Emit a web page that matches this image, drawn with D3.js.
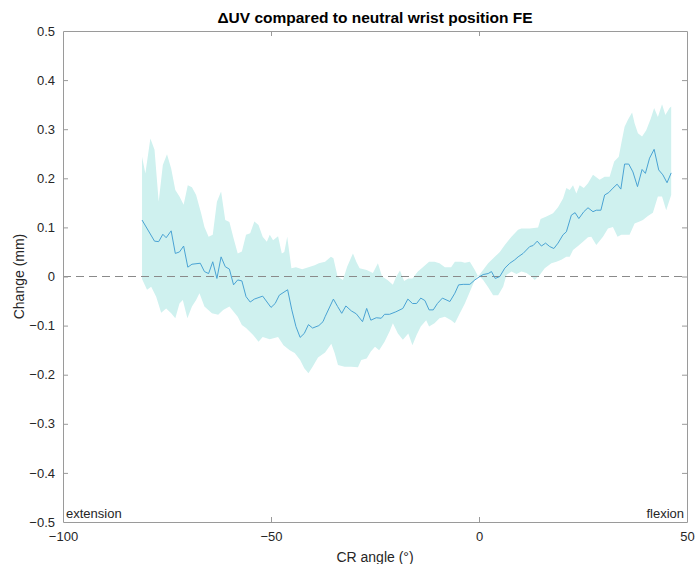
<!DOCTYPE html>
<html>
<head>
<meta charset="utf-8">
<script src="https://cdn.jsdelivr.net/npm/d3@7"></script>
<style>
  html, body { margin: 0; padding: 0; background: #fff; }
  svg { display: block; font-family: "Liberation Sans", Arial, Helvetica, sans-serif; }
</style>
</head>
<body>
<svg id="chart" width="695" height="564"></svg>
<script>
// Mean change in UV as a function of CR angle: [angle (deg), change (mm)]
const meanSeries = [
  [-81,0.115],[-78,0.072],[-77,0.071],[-76,0.086],[-75.2,0.079],[-74,0.093],[-73,0.047],[-72,0.050],
  [-71,0.062],[-70,0.019],[-69,0.025],[-67,0.027],[-66,0.010],[-65,0.006],[-64,0.030],[-63,-0.004],
  [-62,0.040],[-61,0.020],[-60,0.015],[-59,-0.017],[-58,-0.007],[-57,-0.009],[-56,-0.041],[-55,-0.052],
  [-54,-0.046],[-52,-0.040],[-50,-0.063],[-49,-0.055],[-48,-0.038],[-46,-0.027],[-45,-0.068],[-44,-0.102],
  [-43,-0.124],[-42,-0.116],[-41,-0.098],[-40,-0.105],[-38.5,-0.100],[-37.5,-0.092],[-37,-0.082],[-35,-0.046],
  [-34,-0.061],[-33,-0.075],[-32,-0.060],[-30.7,-0.070],[-29.5,-0.076],[-28,-0.092],[-27,-0.065],[-26,-0.089],
  [-24.7,-0.084],[-23.5,-0.085],[-22.7,-0.077],[-21.5,-0.077],[-20,-0.072],[-18.3,-0.065],[-17.1,-0.046],[-16,-0.055],
  [-15,-0.055],[-14,-0.044],[-13,-0.049],[-12,-0.068],[-11,-0.068],[-10,-0.055],[-8.8,-0.044],[-7,-0.051],
  [-5.8,-0.034],[-4.9,-0.017],[-3.8,-0.016],[-2.2,-0.016],[-1,-0.007],[0.2,0.0],[1,0.004],[2.2,0.006],
  [3,0.010],[3.9,-0.004],[5,0.0],[6.2,0.017],[7.4,0.027],[8.6,0.034],[9.4,0.040],[10.6,0.047],
  [11.4,0.054],[12.2,0.061],[13,0.063],[14,0.072],[15,0.062],[16,0.068],[17,0.061],[18,0.057],
  [19,0.068],[20.2,0.085],[21,0.091],[22.2,0.125],[23.1,0.130],[24,0.118],[25.2,0.132],[26.2,0.140],
  [27.4,0.132],[28.2,0.135],[29.3,0.135],[30.2,0.166],[31.2,0.171],[32.2,0.180],[33.2,0.188],[34.1,0.178],
  [35,0.229],[36,0.229],[37,0.213],[38.1,0.183],[39.2,0.218],[40,0.210],[41,0.241],[42.1,0.259],
  [43.2,0.217],[44.2,0.207],[45.2,0.191],[46.2,0.211]
];

// Upper edge of the spread band
const upperBound = [
  [-81,0.244],[-80.2,0.210],[-79,0.281],[-78,0.258],[-77,0.152],[-76,0.227],[-75,0.249],[-74,0.220],
  [-73,0.176],[-72,0.163],[-71,0.146],[-70,0.186],[-69,0.182],[-68,0.166],[-66.8,0.129],[-66,0.101],
  [-65,0.081],[-64,0.085],[-63,0.152],[-62,0.173],[-61,0.115],[-60,0.111],[-59,0.078],[-58,0.047],
  [-57,0.051],[-56,0.085],[-55,0.088],[-54,0.112],[-53,0.105],[-52,0.081],[-51,0.071],[-50.3,0.085],
  [-49.5,0.074],[-48.3,0.082],[-47.4,0.047],[-46.8,0.050],[-46.1,0.081],[-45.1,0.017],[-44,0.019],[-42.5,0.015],
  [-41,0.019],[-39.5,0.023],[-38.5,0.027],[-37,0.030],[-35.6,0.040],[-35,0.037],[-34,0.0],[-32.7,-0.007],
  [-31.7,0.020],[-30.3,0.047],[-29.5,0.030],[-28.7,0.017],[-27,0.013],[-25.5,0.007],[-24.3,0.027],[-23.3,0.0],
  [-22,-0.007],[-20.7,-0.017],[-20,-0.002],[-19,0.012],[-18,-0.009],[-17,-0.004],[-16,-0.004],[-14.7,0.010],
  [-13.5,0.019],[-12,0.030],[-10.7,0.030],[-9.5,0.027],[-8.2,0.019],[-6.7,0.019],[-5.8,0.030],[-4.3,0.030],
  [-3.4,0.028],[-2.2,0.030],[-1,0.013],[-0.2,0.0],[0.7,0.010],[2.2,0.027],[3.8,0.040],[5,0.050],
  [6.2,0.064],[7.8,0.081],[9.4,0.095],[10.2,0.098],[12.2,0.098],[14.2,0.100],[14.8,0.117],[16.2,0.122],
  [17.8,0.129],[19,0.141],[20.2,0.159],[21,0.180],[21.8,0.176],[22.6,0.186],[23.4,0.169],[24.2,0.186],
  [25.2,0.180],[26.2,0.190],[27.4,0.207],[29,0.197],[30.2,0.203],[31.4,0.203],[32.5,0.234],[33.6,0.244],
  [34.2,0.271],[35,0.305],[35.8,0.319],[36.8,0.334],[37.4,0.312],[38.2,0.292],[39.2,0.285],[40.2,0.298],
  [41.3,0.322],[42.1,0.343],[43,0.325],[44,0.351],[44.8,0.329],[45.8,0.343],[46.2,0.346]
];

// Lower edge of the spread band
const lowerBound = [
  [-81,-0.005],[-79.8,-0.027],[-78.8,-0.021],[-77.6,-0.041],[-76.4,-0.074],[-75.2,-0.065],[-74,-0.075],[-73,-0.085],
  [-72,-0.055],[-71.2,-0.048],[-70.1,-0.085],[-69,-0.061],[-68,-0.048],[-67.2,-0.034],[-66,-0.061],[-64.2,-0.075],
  [-62.7,-0.078],[-61.5,-0.068],[-60,-0.061],[-58,-0.082],[-57,-0.099],[-56,-0.105],[-54.3,-0.119],[-53,-0.133],
  [-52,-0.123],[-50.3,-0.128],[-48.3,-0.123],[-47,-0.140],[-45.5,-0.150],[-44.3,-0.156],[-43,-0.170],[-42,-0.187],
  [-41,-0.197],[-40,-0.184],[-38.7,-0.165],[-37,-0.155],[-35.5,-0.137],[-34.7,-0.156],[-33.9,-0.180],[-32.3,-0.184],
  [-30.7,-0.184],[-29.1,-0.185],[-28.3,-0.170],[-27,-0.167],[-26,-0.153],[-25,-0.143],[-24,-0.150],[-22.7,-0.133],
  [-21.5,-0.112],[-20.7,-0.095],[-19.5,-0.116],[-18.3,-0.129],[-17,-0.116],[-16,-0.140],[-15,-0.119],[-14,-0.102],
  [-12.7,-0.089],[-12,-0.102],[-10.7,-0.095],[-9.5,-0.085],[-8.2,-0.082],[-6.7,-0.089],[-5.8,-0.095],[-4.6,-0.075],
  [-3.4,-0.055],[-2.2,-0.031],[-1,-0.007],[-0.2,0.003],[1,-0.007],[2.2,-0.022],[3.4,-0.038],[4.6,-0.038],
  [5.8,-0.021],[6.6,0.003],[7.8,0.010],[9,0.005],[10.2,0.010],[11.4,0.007],[12.6,0.0],[13.4,-0.007],
  [14.6,0.003],[15.8,0.017],[17.4,0.027],[18.6,0.030],[19.8,0.034],[21,0.040],[21.8,0.040],[22.6,0.054],
  [23.8,0.062],[25,0.071],[26.2,0.080],[27,0.081],[28.2,0.064],[29.8,0.081],[31,0.098],[32.2,0.101],
  [33.3,0.081],[34.2,0.085],[36.2,0.085],[37.4,0.108],[38.6,0.112],[39.4,0.115],[40.6,0.123],[41.8,0.130],
  [43,0.163],[44,0.163],[45,0.135],[46.2,0.166]
];

const xTicks = [-100, -50, 0, 50];
const yTicks = [0.5, 0.4, 0.3, 0.2, 0.1, 0, -0.1, -0.2, -0.3, -0.4, -0.5];

const chartTitle = "\u0394UV compared to neutral wrist position FE";
const xTitle = "CR angle (\u00B0)";
const yTitle = "Change (mm)";
const leftNote = "extension";
const rightNote = "flexion";

const margin = { top: 31, right: 8, bottom: 42, left: 63 };
const W = 695, H = 564;
const innerW = W - margin.left - margin.right;
const innerH = H - margin.top - margin.bottom;

const svg = d3.select("#chart");
const g = svg.append("g").attr("transform", `translate(${margin.left},${margin.top})`);

const x = d3.scaleLinear().domain([-100, 50]).range([0, innerW]);
const y = d3.scaleLinear().domain([-0.5, 0.5]).range([innerH, 0]);

// spread band: upper edge forward, lower edge back
const bandPts = upperBound.concat(lowerBound.slice().reverse());
const line = d3.line().x(d => x(d[0])).y(d => y(d[1]));

g.append("path")
  .attr("d", line(bandPts) + "Z")
  .attr("fill", "#cff1ef")
  .attr("stroke", "none");

// zero reference
g.append("line")
  .attr("x1", x(-100)).attr("x2", x(50))
  .attr("y1", y(0)).attr("y2", y(0))
  .attr("stroke", "#8a8a8a")
  .attr("stroke-width", 1)
  .attr("stroke-dasharray", "8,5");

// mean curve
g.append("path")
  .attr("d", line(meanSeries))
  .attr("fill", "none")
  .attr("stroke", "#4aa3d4")
  .attr("stroke-width", 1);

// axes with inward ticks on all four sides
const tickLen = 5;
const axisColor = "#9a9a9a";
const textColor = "#262626";

const bottomAxis = d3.axisBottom(x).tickValues(xTicks).tickSizeInner(-tickLen).tickSizeOuter(0).tickPadding(10).tickFormat(d3.format("d"));
const topAxis = d3.axisTop(x).tickValues(xTicks).tickSizeInner(-tickLen).tickSizeOuter(0).tickFormat("");
const leftAxis = d3.axisLeft(y).tickValues(yTicks).tickSizeInner(-tickLen).tickSizeOuter(0).tickPadding(8)
  .tickFormat(d => d === 0 ? "0" : d3.format(".1f")(d));
const rightAxis = d3.axisRight(y).tickValues(yTicks).tickSizeInner(-tickLen).tickSizeOuter(0).tickFormat("");

const gb = g.append("g").attr("transform", `translate(0,${innerH})`).call(bottomAxis);
const gt = g.append("g").call(topAxis);
const gl = g.append("g").call(leftAxis);
const gr = g.append("g").attr("transform", `translate(${innerW},0)`).call(rightAxis);

[gb, gt, gl, gr].forEach(a => {
  a.select(".domain").attr("stroke", axisColor).attr("stroke-width", 1);
  a.selectAll(".tick line").attr("stroke", axisColor).attr("stroke-width", 1);
  a.selectAll(".tick text").attr("fill", textColor).style("font-size", "13px")
    .style("font-family", "'Liberation Sans', Arial, sans-serif");
});
// keep the end ticks off the frame edges
gt.selectAll(".tick").filter(d => d === -100 || d === 50).select("line").remove();
gb.selectAll(".tick").filter(d => d === -100 || d === 50).select("line").remove();
gl.selectAll(".tick").filter(d => d === 0.5 || d === -0.5).select("line").remove();
gr.selectAll(".tick").filter(d => d === 0.5 || d === -0.5).select("line").remove();

// annotations inside the axes
g.append("text")
  .attr("x", 3).attr("y", innerH - 4)
  .attr("fill", textColor).style("font-size", "13px")
  .text(leftNote);
g.append("text")
  .attr("x", innerW - 3).attr("y", innerH - 4)
  .attr("text-anchor", "end")
  .attr("fill", textColor).style("font-size", "13px")
  .text(rightNote);

// titles
svg.append("text")
  .attr("x", margin.left + innerW / 2).attr("y", 23)
  .attr("text-anchor", "middle")
  .attr("fill", "#000").style("font-size", "15.5px").style("font-weight", "bold")
  .text(chartTitle);

svg.append("text")
  .attr("x", margin.left + innerW / 2).attr("y", 562)
  .attr("text-anchor", "middle")
  .attr("fill", textColor).style("font-size", "14px")
  .text(xTitle);

svg.append("text")
  .attr("transform", `translate(24,${margin.top + innerH / 2}) rotate(-90)`)
  .attr("text-anchor", "middle")
  .attr("fill", textColor).style("font-size", "14px")
  .text(yTitle);
</script>
</body>
</html>
